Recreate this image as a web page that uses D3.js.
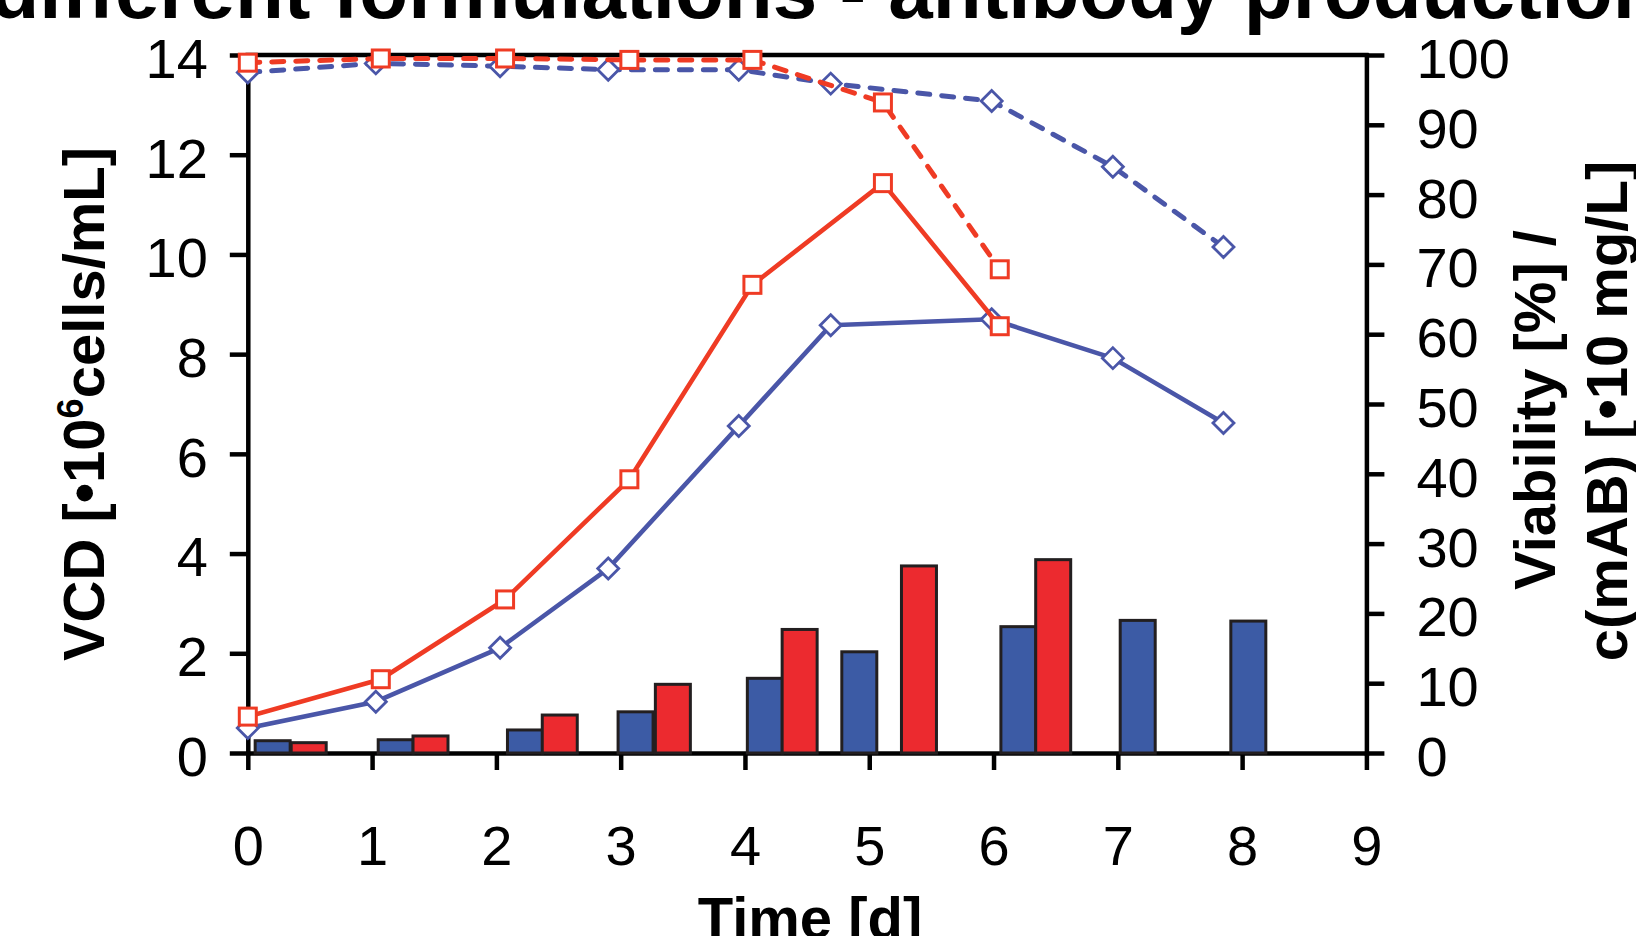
<!DOCTYPE html>
<html><head><meta charset="utf-8">
<script src="https://cdn.jsdelivr.net/npm/d3@7"></script>
<style>
html,body{margin:0;padding:0;background:#fff;}
svg{display:block;}
text{font-family:"Liberation Sans",Arial,Helvetica,sans-serif;}
</style>
</head><body>
<svg id="c" width="1636" height="936"></svg>
<script>
// ---- data ----
const dayTicks = [0,1,2,3,4,5,6,7,8,9];
const vcdTicks = [0,2,4,6,8,10,12,14];
const rightTicks = [0,10,20,30,40,50,60,70,80,90,100];

const redTime      = [0, 1.07, 2.07, 3.07, 4.06, 5.11, 6.05];
const redVCD       = [0.73, 1.48, 3.08, 5.49, 9.39, 11.43, 8.56];
const redViability = [98.9, 99.5, 99.5, 99.3, 99.3, 93.2, 69.3];

const blueTime      = [0, 1.03, 2.03, 2.90, 3.95, 4.69, 5.985, 6.96, 7.85];
const blueVCD       = [0.50, 1.03, 2.11, 3.70, 6.56, 8.58, 8.70, 7.92, 6.62];
const blueViability = [97.5, 98.8, 98.4, 97.9, 97.9, 95.9, 93.4, 84.0, 72.5];

const blueBarTime = [0.20, 1.19, 2.23, 3.12, 4.16, 4.92, 6.20, 7.16, 8.05];
const blueMAb     = [1.76, 1.9, 3.3, 5.9, 10.7, 14.5, 18.1, 19.0, 18.9];
const redBarTime  = [0.49, 1.47, 2.51, 3.42, 4.44, 5.40, 6.48];
const redMAb      = [1.48, 2.44, 5.44, 9.84, 17.7, 26.8, 27.7];

const titleText = "different formulations - antibody production";

// ---- styles ----
const RED_LINE = "#EF3B24", BLUE_LINE = "#4A56A8";
const RED_BAR = "#EC2A2F", BLUE_BAR = "#3C5BA5", BAR_STROKE = "#231F20";
const INK = "#000";

const svg = d3.select("#c");
const x  = d3.scaleLinear().domain([0,9]).range([247.8,1366.4]);
const yL = d3.scaleLinear().domain([0,14]).range([753,55]);
const yR = d3.scaleLinear().domain([0,100]).range([753,55]);

// title (cropped at top)
svg.append("text").attr("x",826).attr("y",18).attr("text-anchor","middle")
  .attr("font-size",80).attr("font-weight","bold").attr("fill",INK).text(titleText);

function styleAxis(g){
  g.attr("font-size",null).attr("font-family",null);
  g.selectAll(".domain").attr("stroke",INK).attr("stroke-width",4.5).attr("stroke-linecap","square");
  g.selectAll(".tick line").attr("stroke",INK).attr("stroke-width",4.5);
  g.selectAll(".tick text").attr("fill",INK).attr("font-size",56);
}

// top border
svg.append("line").attr("x1",x(0)).attr("x2",x(9)).attr("y1",yL(14)).attr("y2",yL(14))
  .attr("stroke",INK).attr("stroke-width",4.5).attr("stroke-linecap","square");

const gL = svg.append("g").attr("transform",`translate(${x(0)},0)`)
  .call(d3.axisLeft(yL).tickValues(vcdTicks).tickSize(18).tickSizeOuter(0).tickPadding(22));
styleAxis(gL); gL.selectAll(".tick text").attr("dy","0.4em");

const gR = svg.append("g").attr("transform",`translate(${x(9)},0)`)
  .call(d3.axisRight(yR).tickValues(rightTicks).tickSize(18).tickSizeOuter(0).tickPadding(32));
styleAxis(gR); gR.selectAll(".tick text").attr("dy","0.4em");

const gB = svg.append("g").attr("transform",`translate(0,${yL(0)})`)
  .call(d3.axisBottom(x).tickValues(dayTicks).tickSize(17).tickSizeOuter(0).tickFormat(d3.format("d")));
styleAxis(gB); gB.selectAll(".tick text").attr("y",112).attr("dy","0");

// axis titles
svg.append("text").attr("x",810).attr("y",938).attr("text-anchor","middle")
  .attr("font-size",58).attr("font-weight","bold").attr("fill",INK).text("Time [d]");

const lt = svg.append("text").attr("transform","translate(104,404) rotate(-90)")
  .attr("text-anchor","middle").attr("font-size",58).attr("font-weight","bold").attr("fill",INK);
lt.append("tspan").text("VCD [\u202210");
lt.append("tspan").attr("font-size",36).attr("dy",-21).text("6");
lt.append("tspan").attr("dy",21).text("cells/mL]");

svg.append("text").attr("transform","translate(1555,410) rotate(-90)")
  .attr("text-anchor","middle").attr("font-size",58).attr("font-weight","bold").attr("fill",INK)
  .text("Viability [%] /");
svg.append("text").attr("transform","translate(1627,411) rotate(-90)")
  .attr("text-anchor","middle").attr("font-size",58).attr("font-weight","bold").attr("fill",INK)
  .text("c(mAB) [\u202210 mg/L]");

// bars
const BW = 35;
function bars(times, vals, color){
  svg.append("g").selectAll("rect").data(times.map((t,i)=>({t,v:vals[i]}))).join("rect")
    .attr("x",d=>x(d.t)-BW/2).attr("width",BW)
    .attr("y",d=>yR(d.v)).attr("height",d=>yR(0)-yR(d.v))
    .attr("fill",color).attr("stroke",BAR_STROKE).attr("stroke-width",3);
}
bars(blueBarTime, blueMAb, BLUE_BAR);
bars(redBarTime, redMAb, RED_BAR);

// lines
function series(times, vals, yScale, color, dashed, marker){
  const pts = times.map((t,i)=>[x(t), yScale(vals[i])]);
  svg.append("path").attr("d",d3.line()(pts)).attr("fill","none")
    .attr("stroke",color).attr("stroke-width",dashed?5:4.6)
    .attr("stroke-dasharray",dashed?"12,12":null)
    .attr("stroke-linecap",dashed?"round":"butt").attr("stroke-linejoin","round");
  const g = svg.append("g");
  if(marker==="square"){
    g.selectAll("rect").data(pts).join("rect")
      .attr("x",d=>d[0]-8.5).attr("y",d=>d[1]-8.5).attr("width",17).attr("height",17)
      .attr("fill","#fff").attr("stroke",color).attr("stroke-width",3);
  } else {
    g.selectAll("path").data(pts).join("path")
      .attr("d",d=>`M${d[0]},${d[1]-10.5}L${d[0]+10.5},${d[1]}L${d[0]},${d[1]+10.5}L${d[0]-10.5},${d[1]}Z`)
      .attr("fill","#fff").attr("stroke",color).attr("stroke-width",2.8);
  }
}
series(blueTime, blueViability, yR, BLUE_LINE, true, "diamond");
series(blueTime, blueVCD, yL, BLUE_LINE, false, "diamond");
series(redTime, redViability, yR, RED_LINE, true, "square");
series(redTime, redVCD, yL, RED_LINE, false, "square");
</script>
</body></html>
